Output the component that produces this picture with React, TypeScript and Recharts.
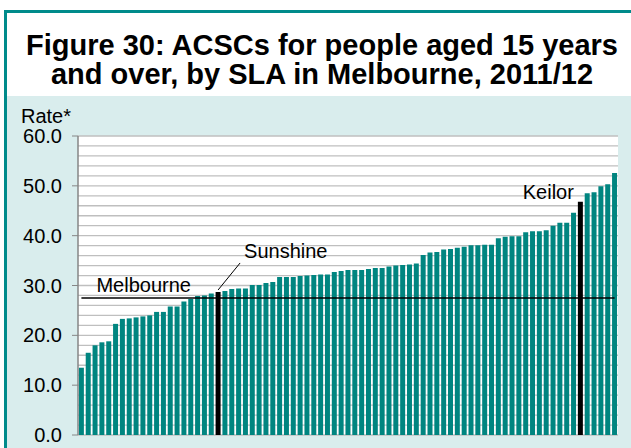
import { BarChart, Bar, XAxis, YAxis, CartesianGrid, ReferenceLine, Cell, LabelList } from 'recharts'

// ACSC rate per SLA, sorted ascending
const rates = [
  13.5, 16.5, 18.0, 18.6, 18.8, 22.3, 23.3, 23.4, 23.6, 23.8, 24.0, 24.7, 24.7, 25.8, 25.8, 26.8, 27.3, 27.9, 28.0, 28.4,
  28.7, 28.9, 29.3, 29.4, 29.4, 30.1, 30.1, 30.5, 30.7, 31.7, 31.7, 31.7, 31.9, 32.0, 32.1, 32.2, 32.2, 32.7, 32.9,
  33.1, 33.1, 33.1, 33.3, 33.5, 33.5, 33.8, 34.0, 34.1, 34.2, 34.4, 36.1, 36.6, 36.7, 37.2, 37.3, 37.6, 37.8, 38.1,
  38.1, 38.2, 38.2, 39.5, 39.8, 39.9, 39.9, 40.7, 40.9, 40.9, 41.1, 42.0, 42.6, 42.6, 44.6, 46.8, 48.5, 48.7, 49.9, 50.3, 52.6,
]
const highlights = [
  { index: 20, name: 'Sunshine' },
  { index: 73, name: 'Keilor' },
]
const melbourneRate = 27.5
const yTicks = [0, 10, 20, 30, 40, 50, 60]
const gridValues = [0, 2, 4, 6, 8, 10, 12, 14, 16, 18, 20, 22, 24, 26, 28, 30, 32, 34, 36, 38, 40, 42, 44, 46, 48, 50, 52, 54, 56, 58, 60]

const TEAL = '#008580'
const FRAME = '#008B8B'
const PANEL = '#D9EDED'
const FONT = 'Arial, "Liberation Sans", sans-serif'

const data = rates.map((rate, i) => ({ sla: `SLA${i + 1}`, rate }))

function HighlightLabel(props: any) {
  const { x, y, width, index } = props
  const h = highlights.find((d) => d.index === index)
  if (!h) return null
  const cx = x + width / 2
  if (h.name === 'Sunshine') {
    return (
      <g>
        <line x1={cx} y1={y - 2} x2={cx + 22} y2={y - 29} stroke="#000" strokeWidth={1} />
        <text x={cx + 26} y={y - 34} fontSize={20} fontFamily={FONT} fill="#000">
          {h.name}
        </text>
      </g>
    )
  }
  return (
    <text x={x - 4} y={y - 3} textAnchor="end" fontSize={20} fontFamily={FONT} fill="#000">
      {h.name}
    </text>
  )
}

function MelbourneLabel(props: any) {
  const vb = props.viewBox || {}
  return (
    <text x={vb.x + 15} y={vb.y - 6} fontSize={20} fontFamily={FONT} fill="#000">
      Melbourne
    </text>
  )
}

export default function App() {
  return (
    <div style={{ position: 'absolute', left: 0, top: 0, width: 631, height: 448, overflow: 'hidden', background: '#fff' }}>
      {/* frame */}
      <div
        style={{
          position: 'absolute',
          left: 4,
          top: 10,
          width: 640,
          height: 460,
          borderLeft: `3px solid ${FRAME}`,
          borderTop: `3px solid ${FRAME}`,
          background: '#fff',
        }}
      />
      <div style={{ position: 'absolute', left: 7, top: 96, width: 624, height: 352, background: PANEL }} />

      <div
        style={{
          position: 'absolute',
          left: 7,
          top: 31,
          width: 630,
          textAlign: 'center',
          fontFamily: FONT,
          fontWeight: 'bold',
          fontSize: 29,
          lineHeight: '29px',
          color: '#000',
        }}
      >
        Figure 30: ACSCs for people aged 15 years
        <br />
        and over, by SLA in Melbourne, 2011/12
      </div>

      <div style={{ position: 'absolute', left: 21, top: 105, fontFamily: FONT, fontSize: 20, lineHeight: '23px', color: '#000' }}>
        Rate*
      </div>

      <div style={{ position: 'absolute', left: 7, top: 96 }}>
        <BarChart width={624} height={352} data={data} margin={{ top: 40, right: 13, bottom: 13, left: 0 }} barCategoryGap="13%">
          <CartesianGrid
            vertical={false}
            horizontalValues={gridValues}
            stroke="#BFBFBF"
            strokeWidth={1.3}
            fill="#fff"
            fillOpacity={1}
          />
          <XAxis dataKey="sla" hide />
          <YAxis
            width={71}
            domain={[0, 60]}
            ticks={yTicks}
            tickFormatter={(v: number) => v.toFixed(1)}
            tick={{ fontSize: 20, fontFamily: FONT, fill: '#000' }}
            tickSize={6}
            tickMargin={10}
            tickLine={{ stroke: '#868686' }}
            axisLine={{ stroke: '#868686', strokeWidth: 1.5 }}
            interval={0}
          />
          <Bar dataKey="rate" isAnimationActive={false}>
            {data.map((d, i) => (
              <Cell key={d.sla} fill={highlights.some((h) => h.index === i) ? '#000' : TEAL} />
            ))}
            <LabelList dataKey="rate" content={<HighlightLabel />} />
          </Bar>
          <ReferenceLine
            segment={[
              { x: data[0].sla, y: melbourneRate },
              { x: data[data.length - 1].sla, y: melbourneRate },
            ]}
            stroke="#000"
            strokeWidth={1.5}
            label={<MelbourneLabel />}
          />
        </BarChart>
      </div>
    </div>
  )
}
